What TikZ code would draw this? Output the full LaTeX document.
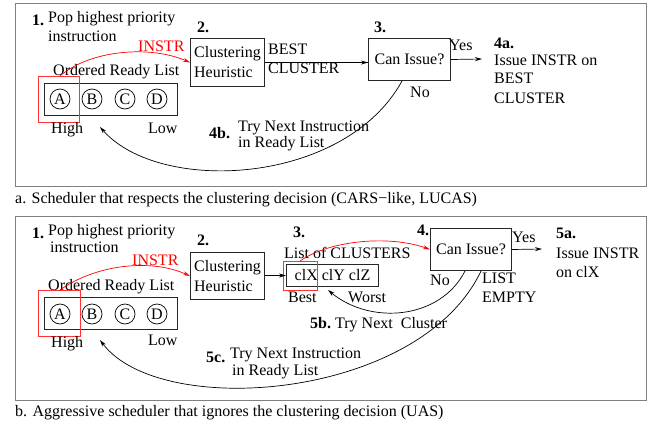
\documentclass[tikz,border=0pt]{standalone}
\usepackage{fontspec}
\setmainfont{Liberation Serif}
\usetikzlibrary{arrows.meta,calc}
\begin{document}
\begin{tikzpicture}[x=1pt,y=-1pt,
  every node/.style={font=\fontsize{16}{20}\selectfont, inner sep=0pt},
  txt/.style={anchor=base west},
  two/.style={anchor=base west, align=left, font=\fontsize{16}{14.5}\selectfont},
  twob/.style={anchor=base west, align=left, font=\fontsize{16}{17}\selectfont},
  lbl/.style={anchor=base west, font=\fontsize{16}{20}\selectfont\bfseries},
  frame/.style={draw=black!50, line width=1pt, anchor=north west},
  box/.style={draw=black!85, line width=1pt, anchor=north west, inner sep=3pt},
  circ/.style={draw, circle, line width=0.7pt, minimum size=20pt},
  sel/.style={draw=red!80, line width=1pt, anchor=north west},
  arr/.style={-{Stealth[length=7pt,width=4pt]}, line width=0.7pt},
  redarr/.style={arr, draw=red}]
\useasboundingbox (0,0) rectangle (656,426);

% ---------------- panel a ----------------
\node[frame, minimum width=631, minimum height=183] (fa) at (15,3) {};
\node[lbl] (n1a) at (32,25) {1.};
\node[txt] (popa) at (48,22) {Pop highest priority};
\node[txt] (insta) at (48,41) {instruction};
\node[lbl] (n2a) at (197,32) {2.};
\node[box, minimum width=74, minimum height=48, align=left] (cha) at (190,38) {Clustering\\Heuristic};
\node[txt, red] (instra) at (138,51) {INSTR};
\node[txt] (orla) at (53,75) {Ordered Ready List};
\node[box, minimum width=133, minimum height=32] (rla) at (44,83) {};
\node[circ] (aa) at (60,99) {A};
\node[circ] (ba) at (92,99) {B};
\node[circ] (cca) at (125,99) {C};
\node[circ] (da) at (157,99) {D};
\node[sel, minimum width=41, minimum height=46] (sela) at (38,76) {};
\node[txt] (higha) at (51,133) {High};
\node[txt] (lowa) at (148,133) {Low};
\node[lbl] (n4ba) at (209,138) {4b.};
\node[two] (trya) at (238,147) {Try Next Instruction\\in Ready List};
\node[box, minimum width=82, minimum height=42, inner sep=0pt] (cia) at (368,38) {Can Issue?};
\node[lbl] (n3a) at (374,32) {3.};
\node[txt] (besta) at (268,54) {BEST};
\node[txt] (clustera) at (268,73) {CLUSTER};
\node[txt] (yesa) at (449,50) {Yes};
\coordinate (yesenda) at (482,59);
\node[lbl] (n4aa) at (494,48) {4a.};
\node[txt] (issa) at (494,65) {Issue INSTR on};
\node[txt] (bestba) at (494,83) {BEST};
\node[txt] (clustba) at (494,103) {CLUSTER};
\node[txt] (noa) at (410,97) {No};
\coordinate (backa) at (100,127);

\draw[line width=1pt] (cha.east) -- (cha.east -| cia.west);
\draw[arr] ($(cha.east -| cia.west)+(-20,0)$) -- (cha.east -| cia.west);
\draw[arr] (cia.east) -- (yesenda);
\draw[redarr] ($(sela.north west)+(22,0)$) .. controls (90,50) and (150,45) .. (cha.west);
\draw[arr] ($(cia.south west)+(34,0)$) .. controls (345,185) and (160,195) .. (backa);

\node[txt] (capa) at (15,203) {a. Scheduler that respects the clustering decision (CARS−like, LUCAS)};

% ---------------- panel b ----------------
\node[frame, minimum width=631, minimum height=184] (fb) at (15,216) {};
\node[lbl] (n1b) at (32,238) {1.};
\node[txt] (popb) at (48,235) {Pop highest priority};
\node[txt] (instb) at (50,252) {instruction};
\node[lbl] (n2b) at (197,245) {2.};
\node[box, minimum width=74, minimum height=47, align=left] (chb) at (190,252) {Clustering\\Heuristic};
\node[txt, red] (instrb) at (132,265) {INSTR};
\node[txt] (orlb) at (48,290) {Ordered Ready List};
\node[box, minimum width=133, minimum height=32] (rlb) at (44,297) {};
\node[circ] (ab) at (60,314) {A};
\node[circ] (bb) at (92,314) {B};
\node[circ] (ccb) at (125,314) {C};
\node[circ] (db) at (157,314) {D};
\node[sel, minimum width=42, minimum height=46] (selb) at (38,290) {};
\node[txt] (highb) at (51,347) {High};
\node[txt] (lowb) at (148,345) {Low};
\node[lbl] (n5cb) at (206,362) {5c.};
\node[twob] (tryb) at (230,375) {Try Next Instruction\\\hspace*{2pt}in Ready List};
\node[lbl] (n3b) at (293,237) {3.};
\node[txt] (locb) at (284,258) {List of CLUSTERS};
\node[box, minimum width=92, minimum height=22, inner sep=0pt] (clb) at (286,264) {clX clY clZ};
\node[sel, minimum width=34, minimum height=29] (selc) at (283,261) {};
\node[txt] (bestb) at (288,302) {Best};
\node[txt] (worstb) at (348,302) {Worst};
\node[lbl] (n5bb) at (310,328) {5b.};
\node[txt] (trycb) at (335,328) {Try Next\ \ Cluster};
\node[lbl] (n4b) at (417,235) {4.};
\node[box, minimum width=81, minimum height=42, inner sep=0pt] (cib) at (430,228) {Can Issue?};
\node[txt] (yesb) at (512,242) {Yes};
\coordinate (yesendb) at (542,249);
\node[lbl] (n5ab) at (556,238) {5a.};
\node[txt] (issb) at (556,258) {Issue INSTR};
\node[txt] (onb) at (556,277) {on clX};
\node[txt] (nob) at (430,285) {No};
\node[txt] (listb) at (482,283) {LIST};
\node[txt] (emptyb) at (482,302) {EMPTY};
\coordinate (backb) at (100,340);
\coordinate (backc) at (328,290);

\draw[arr] (chb.east |- clb.west) -- (clb.west);
\draw[arr] (cib.east) -- (yesendb);
\draw[redarr] ($(selb.north west)+(22,0)$) .. controls (95,265) and (150,258) .. (chb.west);
\draw[redarr] ($(selc.north west)+(17,0)$) .. controls (330,240) and (390,235) .. (cib.west);
\draw[arr] ($(cib.south west)+(35,0)$) .. controls (440,320) and (370,325) .. (backc);
\draw[arr] ($(cib.south west)+(51,0)$) .. controls (420,400) and (160,420) .. (backb);

\node[txt] (capb) at (15,416) {b. Aggressive scheduler that ignores the clustering decision (UAS)};
\end{tikzpicture}
\end{document}
